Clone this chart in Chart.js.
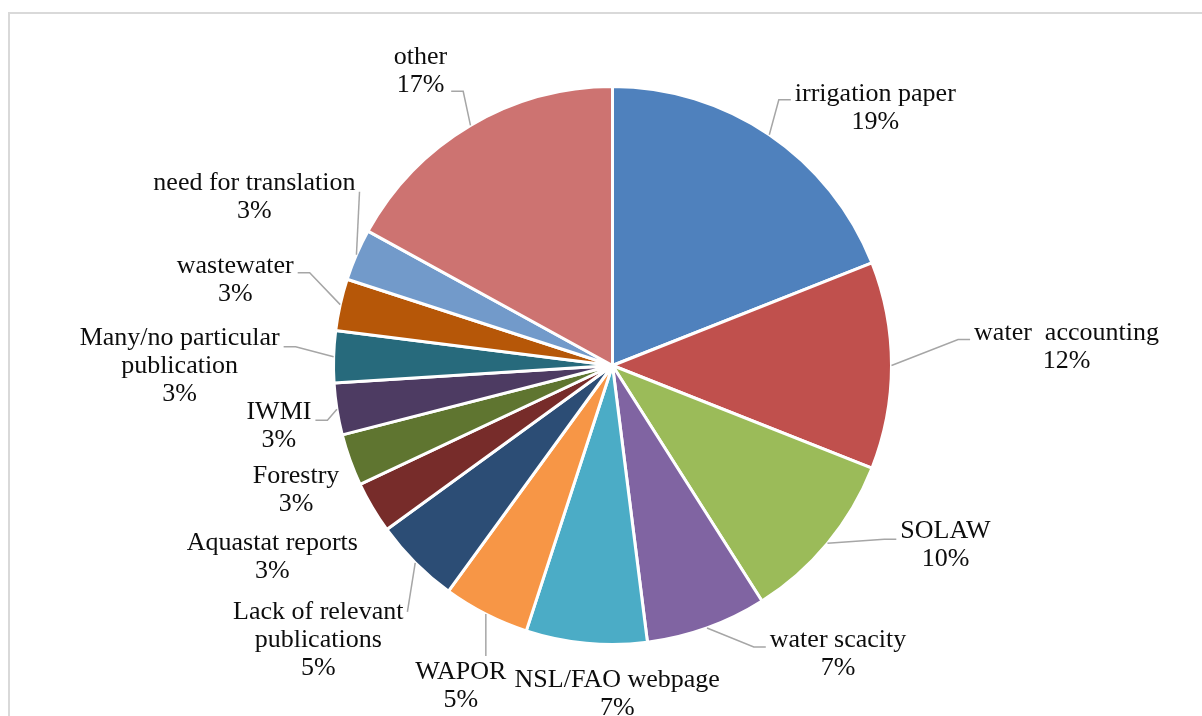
<!DOCTYPE html>
<html>
<head>
<meta charset="utf-8">
<script src="https://cdn.jsdelivr.net/npm/chart.js@4.4.0/dist/chart.umd.min.js"></script>
<style>
  html, body { margin: 0; padding: 0; background: #fff; overflow: hidden; }
  #frame { position: absolute; left: 8px; top: 12px; width: 1400px; height: 900px; border: 2px solid #d9d9d9; box-sizing: border-box; }
  #pubChart { position: absolute; left: 0; top: 0; }
</style>
</head>
<body>
<div id="frame"></div>
<canvas id="pubChart" width="1202" height="716"></canvas>
<script>
const categories = [
  'irrigation paper',
  'water  accounting',
  'SOLAW',
  'water scacity',
  'NSL/FAO webpage',
  'WAPOR',
  ['Lack of relevant', 'publications'],
  'Aquastat reports',
  'Forestry',
  'IWMI',
  ['Many/no particular', 'publication'],
  'wastewater',
  'need for translation',
  'other'
];
const shares = [19, 12, 10, 7, 7, 5, 5, 3, 3, 3, 3, 3, 3, 17];
const sliceColors = [
  '#4F81BD', '#C0504D', '#9BBB59', '#8064A2', '#4BACC6', '#F79646', '#2C4D75',
  '#772C2A', '#5F7530', '#4D3B62', '#276A7C', '#B65708', '#729ACA', '#CD7371'
];

// label box centre relative to the slice's outer edge point, then which side
// the leader line attaches to and its vertical offset from the box centre
const labelLayout = [
  [106, -27, 'L', -8],
  [175, -19, 'L', -7],
  [118, 2, 'L', -6],
  [131, 26, 'L', -7],
  [31, 51, null, 0],
  [-25, 72, 'T', 0],
  [-97, 77, 'R', -28],
  [-100, 49, null, 0],
  [-54, 30, null, 0],
  [-58, 17, 'R', -6],
  [-154, 9, 'R', -19],
  [-105, -25, 'R', -7],
  [-102, -58, 'R', -5],
  [-50, -54, 'R', 20]
];

const LINE_H = 28;

const outsideLabels = {
  id: 'outsideLabels',
  afterDatasetsDraw(chart) {
    const ctx = chart.ctx;
    const arcs = chart.getDatasetMeta(0).data;
    const values = chart.data.datasets[0].data;
    const total = values.reduce((a, b) => a + b, 0);
    ctx.save();
    ctx.font = '26px "Liberation Serif"';
    ctx.textAlign = 'center';
    ctx.textBaseline = 'alphabetic';
    arcs.forEach((arc, i) => {
      const p = arc.getProps(['x', 'y', 'startAngle', 'endAngle', 'outerRadius'], true);
      const mid = (p.startAngle + p.endAngle) / 2;
      const px = p.x + Math.cos(mid) * p.outerRadius;
      const py = p.y + Math.sin(mid) * p.outerRadius;
      const [dx, dy, side, ly] = labelLayout[i];
      const cx = px + dx, cy = py + dy;
      const name = chart.data.labels[i];
      const lines = (Array.isArray(name) ? name : [name]).concat(Math.round(values[i] / total * 100) + '%');
      const w = Math.max(...lines.map(t => ctx.measureText(t).width));

      // leader line
      ctx.strokeStyle = '#a6a6a6';
      ctx.lineWidth = 1.5;
      if (side === 'L' || side === 'R') {
        const dir = side === 'L' ? -1 : 1;
        const ex = cx + dir * (w / 2 + 4);
        const ey = cy + ly;
        ctx.beginPath();
        ctx.moveTo(px, py);
        if (Math.abs(px - ex) > 16) ctx.lineTo(ex + dir * 12, ey);
        ctx.lineTo(ex, ey);
        ctx.stroke();
      } else if (side === 'T') {
        const top = cy - (lines.length - 1) / 2 * LINE_H - 16;
        ctx.beginPath();
        ctx.moveTo(px, py);
        ctx.lineTo(px, top);
        ctx.stroke();
      }

      ctx.fillStyle = '#0d0d0d';
      lines.forEach((t, k) => {
        const lineY = cy + (k - (lines.length - 1) / 2) * LINE_H;
        ctx.fillText(t, cx, lineY + 7);
      });
    });
    ctx.restore();
  }
};

new Chart(document.getElementById('pubChart'), {
  type: 'pie',
  data: {
    labels: categories,
    datasets: [{
      data: shares,
      backgroundColor: sliceColors,
      borderColor: '#ffffff',
      borderWidth: 3
    }]
  },
  options: {
    responsive: false,
    animation: false,
    layout: { padding: { left: 332, right: 309, top: 85, bottom: 70 } },
    plugins: {
      legend: { display: false },
      tooltip: { enabled: false }
    }
  },
  plugins: [outsideLabels]
});
</script>
</body>
</html>
